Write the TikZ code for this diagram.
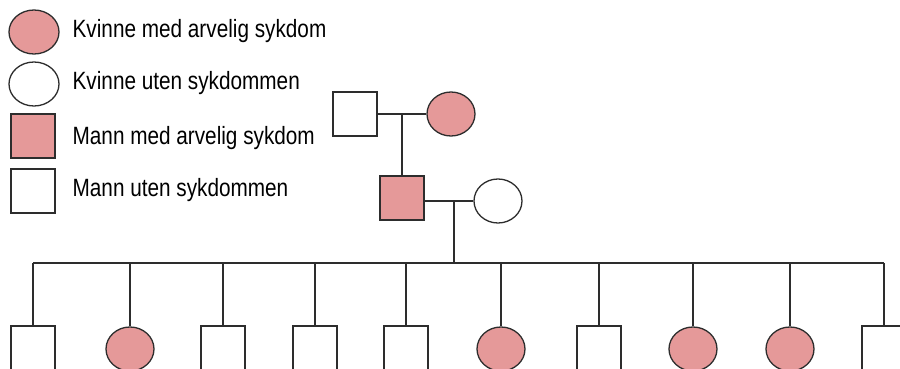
\documentclass[tikz,border=0pt]{standalone}
\usepackage{fontspec}
\setmainfont[FakeStretch=0.83]{Liberation Sans}
\usepackage{tikz}
\usetikzlibrary{calc,shapes.geometric}
\definecolor{sykrosa}{RGB}{229,153,153}
\definecolor{strek}{RGB}{45,45,45}

\begin{document}
\begin{tikzpicture}[x=1pt,y=-1pt,line width=1.3pt,color=strek]
  \tikzstyle{mann}=[rectangle,draw=strek,fill=white,minimum size=44pt,inner sep=0pt]
  \tikzstyle{kvinne}=[ellipse,draw=strek,fill=white,minimum width=48pt,minimum height=44pt,inner sep=0pt]
  \tikzstyle{arvelig}=[fill=sykrosa]
  \tikzstyle{tekst}=[anchor=base west,inner sep=0pt,text=black,font=\fontsize{25}{30}\selectfont]

  \useasboundingbox (0,0) rectangle (900,369);
  \clip (0,0) rectangle (900,369);

  % forklaring
  \node[kvinne,arvelig,minimum width=50pt] (lk1) at (34,32)  {};
  \node[kvinne,minimum width=50pt]         (lk2) at (34,84)  {};
  \node[mann,arvelig]   (lm1) at (33,136) {};
  \node[mann]           (lm2) at (33,191) {};
  \node[tekst] (tk1) at (72,38)  {Kvinne med arvelig sykdom};
  \node[tekst] (tk2) at (72,90)  {Kvinne uten sykdommen};
  \node[tekst] (tm1) at (72,144) {Mann med arvelig sykdom};
  \node[tekst] (tm2) at (72,196) {Mann uten sykdommen};

  % besteforeldre og foreldre
  \node[mann]           (gf)  at (355,114) {};
  \node[kvinne,arvelig] (gm)  at (451,114) {};
  \node[mann,arvelig]   (far) at (402,198) {};
  \node[kvinne]         (mor) at (498,201) {};

  \coordinate (gpar) at ($(gf.east)!0.5!(gm.west)$);
  \coordinate (fpar) at (far.east |- mor.west);
  \coordinate (par)  at ($(fpar)!0.6!(mor.west)$);
  \coordinate (sib)  at (par |- 0,263);

  % barn
  \node[mann]           (b1)  at (33,348)  {};
  \node[kvinne,arvelig] (b2)  at (130,349) {};
  \node[mann]           (b3)  at (223,348) {};
  \node[mann]           (b4)  at (315,348) {};
  \node[mann]           (b5)  at (406,348) {};
  \node[kvinne,arvelig] (b6)  at (501,349) {};
  \node[mann]           (b7)  at (599,348) {};
  \node[kvinne,arvelig] (b8)  at (693,349) {};
  \node[kvinne,arvelig] (b9)  at (790,349) {};
  \node[mann]           (b10) at (884,348) {};

  \draw (gf.east) -- (gm.west);
  \draw (gpar) -- (far.north);
  \draw (fpar) -- (mor.west);
  \draw (par) -- (sib);
  \draw (b1.north |- sib) -- (b10.north |- sib);
  \foreach \i in {1,...,10}
    \draw (b\i.north |- sib) -- (b\i.north);
\end{tikzpicture}
\end{document}
